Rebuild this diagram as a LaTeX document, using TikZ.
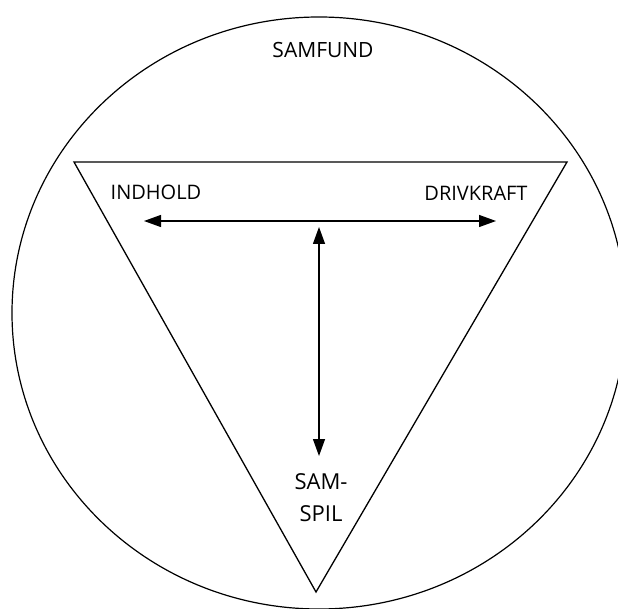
\documentclass[tikz,border=0pt]{standalone}
\usepackage{fontspec}
\setmainfont{Open Sans}
\usetikzlibrary{arrows.meta}
\tikzset{
  outline/.style={line width=1.3pt, black},
  twoway/.style={line width=1.3pt, {Triangle[length=17pt,width=12pt]}-{Triangle[length=17pt,width=12pt]}},
  label/.style={font=\fontsize{20}{29}\selectfont, inner sep=0pt, align=center}
}
\begin{document}
\begin{tikzpicture}[x=1pt,y=-1pt]
\useasboundingbox (0,0) rectangle (618,609);
\clip (0,0) rectangle (618,609);
\fill[white] (0,0) rectangle (618,609);
% outer society ellipse
\draw[outline, line width=1.2pt] (319,313) ellipse [x radius=307, y radius=296];
% triangle
\coordinate (tl) at (74,162);
\coordinate (tr) at (567,162);
\coordinate (bt) at (316,592);
\draw[outline, line join=miter] (tl) -- (tr) -- (bt) -- cycle;
% arrow end points
\coordinate (al) at (144,221);
\coordinate (ar) at (496,221);
\coordinate (vt) at (319,227);
\coordinate (vb) at (319,456);
\draw[twoway] (al) -- (ar);
\draw[twoway] (vt) -- (vb);
% labels
\node[label, font=\fontsize{21}{29}\selectfont] (samfund) at (323,50) {SAMFUND};
\node[label] (indhold) at (156,192) {INDHOLD};
\node[label] (drivkraft) at (476,193) {DRIVKRAFT};
\node[label, font=\fontsize{22}{32}\selectfont] (samspil) at (321,498) {SAM-\\SPIL};
\end{tikzpicture}
\end{document}
